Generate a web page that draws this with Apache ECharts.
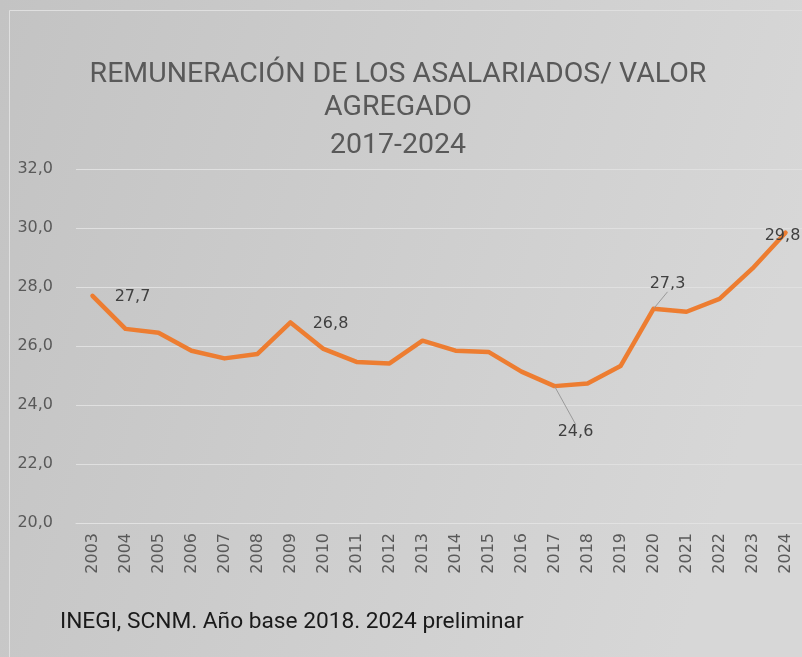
<!DOCTYPE html>
<html>
<head>
<meta charset="utf-8">
<script src="https://cdn.jsdelivr.net/npm/echarts@6/dist/echarts.min.js"></script>
<style>
html,body{margin:0;padding:0;}
#chart{width:802px;height:657px;}
</style>
</head>
<body>
<div id="chart"></div>
<script>
// ---- data ----
const years = ['2003','2004','2005','2006','2007','2008','2009','2010','2011','2012','2013','2014','2015','2016','2017','2018','2019','2020','2021','2022','2023','2024'];
const ratio = [27.70,26.58,26.45,25.84,25.58,25.73,26.80,25.90,25.46,25.41,26.18,25.84,25.80,25.13,24.64,24.73,25.32,27.26,27.16,27.60,28.63,29.84];
const labeledYears = ['2003','2009','2017','2020','2024'];
const leaderYears = ['2017','2020'];
const titleLines = ['REMUNERACIÓN DE LOS ASALARIADOS/ VALOR', 'AGREGADO', '2017-2024'];
const sourceText = 'INEGI, SCNM. Año base 2018. 2024 preliminar';
const yMin = 20, yMax = 32, yStep = 2;

// label placement (pixel offsets of label centre from the point)
const labelOffsets = {
  '2003': [40, 1],
  '2009': [40, 1],
  '2017': [21, 46],
  '2020': [14, -25],
  '2024': [-3, 3]
};

const fmt = v => v.toFixed(1).replace('.', ',');

const seriesData = ratio.map((v, i) => {
  const y = years[i];
  const item = { value: v };
  if (labeledYears.includes(y)) {
    item.label = { show: true };
    item.labelLine = { show: leaderYears.includes(y) };
  }
  return item;
});

const chart = echarts.init(document.getElementById('chart'), null, { renderer: 'canvas' });

const titleFont = '28.5px Roboto';

const option = {
  animation: false,
  backgroundColor: {
    type: 'linear', x: 0, y: 0, x2: 1, y2: 0.35,
    colorStops: [
      { offset: 0, color: '#c3c3c3' },
      { offset: 1, color: '#d7d7d7' }
    ]
  },
  graphic: [
    {
      type: 'rect', silent: true,
      shape: { x: 9.5, y: 10.5, width: 820, height: 680 },
      style: { fill: null, stroke: '#dfdfdf', lineWidth: 1 }
    },
    {
      type: 'text', x: 398, y: 75,
      style: { text: titleLines[0], font: titleFont, fill: '#595959', textAlign: 'center', textVerticalAlign: 'middle' }
    },
    {
      type: 'text', x: 398, y: 108,
      style: { text: titleLines[1], font: titleFont, fill: '#595959', textAlign: 'center', textVerticalAlign: 'middle' }
    },
    {
      type: 'text', x: 398, y: 146,
      style: { text: titleLines[2], font: titleFont, fill: '#595959', textAlign: 'center', textVerticalAlign: 'middle' }
    },
    {
      type: 'text', x: 60, y: 622,
      style: { text: sourceText, font: '22.7px Roboto', fill: '#1a1a1a', textAlign: 'left', textVerticalAlign: 'middle' }
    }
  ],
  grid: { left: 76, top: 169, width: 727, height: 354, containLabel: false },
  xAxis: {
    type: 'category',
    data: years,
    boundaryGap: true,
    axisLine: { show: true, lineStyle: { color: '#e2e2e2', width: 1 } },
    axisTick: { show: false },
    axisLabel: {
      rotate: 90,
      margin: 10,
      interval: 0,
      color: '#595959',
      fontFamily: 'DejaVu Sans',
      fontSize: 16
    },
    splitLine: { show: false }
  },
  yAxis: {
    type: 'value',
    min: yMin, max: yMax, interval: yStep,
    axisLine: { show: false },
    axisTick: { show: false },
    axisLabel: {
      margin: 23,
      color: '#595959',
      fontFamily: 'DejaVu Sans',
      fontSize: 16,
      formatter: v => fmt(v)
    },
    splitLine: { show: true, lineStyle: { color: '#e0e0e0', width: 1 } }
  },
  series: [{
    type: 'line',
    data: seriesData,
    symbol: 'circle',
    symbolSize: 1,
    showSymbol: true,
    showAllSymbol: true,
    itemStyle: { color: '#ED7D31' },
    lineStyle: { color: '#ED7D31', width: 4.5, join: 'round', cap: 'round' },
    label: {
      show: false,
      position: 'inside',
      color: '#404040',
      fontFamily: 'DejaVu Sans',
      fontSize: 16,
      formatter: p => fmt(p.value)
    },
    labelLine: { show: false, lineStyle: { color: '#9a9a9a', width: 1 } },
    labelLayout: function (params) {
      const y = years[params.dataIndex];
      const off = labelOffsets[y];
      if (!off) return {};
      return { dx: off[0], dy: off[1] };
    },
    emphasis: { disabled: true },
    silent: true
  }]
};

chart.setOption(option);
</script>
</body>
</html>
